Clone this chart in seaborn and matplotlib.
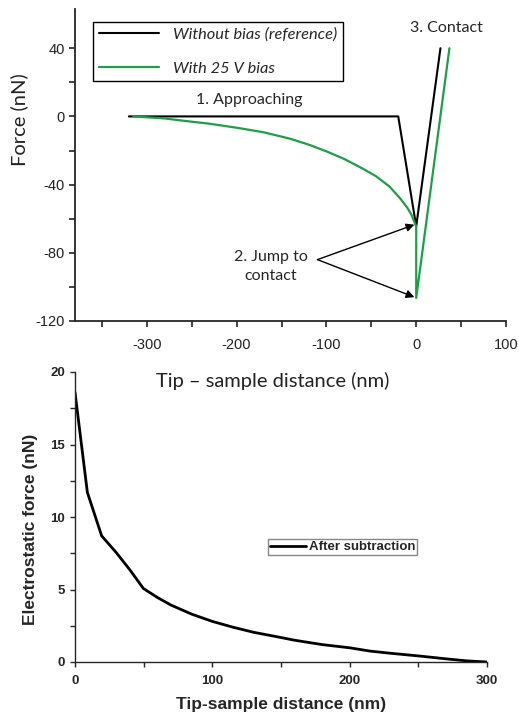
import matplotlib
matplotlib.use("Agg")
import matplotlib.pyplot as plt
import numpy as np
import seaborn as sns
import pandas as pd

# top panel: force curves
ref_dist = [-320, -20, 0, 27]
ref_force = [0, 0, -64.5, 40]
bias_dist = [-315, -280, -255, -230, -198, -170, -141, -120, -100, -80, -60, -45, -30, -18, -10, -5, -2, 0, 0, 37]
bias_force = [0, -1.2, -2.8, -4.3, -6.8, -9.3, -13, -16.5, -20.5, -25, -30.5, -35, -41, -48, -53.5, -58, -62, -64.5, -106.5, 40]

# bottom panel: electrostatic force after subtraction
es_dist = [0, 9, 19.4, 30, 40, 49.8, 60, 70, 85, 100, 115, 130, 145, 160, 180, 200, 215, 230, 250, 270, 285, 300]
es_force = [18.6, 11.7, 8.7, 7.55, 6.35, 5.07, 4.45, 3.92, 3.3, 2.8, 2.4, 2.05, 1.78, 1.5, 1.2, 0.98, 0.75, 0.6, 0.42, 0.22, 0.08, 0]

GREEN = "#1f9e48"
LABEL_FONT = ["Lato", "DejaVu Sans"]

sns.set_style("ticks")
plt.rcParams["font.family"] = ["Liberation Sans", "DejaVu Sans"]
plt.rcParams["axes.unicode_minus"] = False

fig = plt.figure(figsize=(5.19, 7.15), dpi=100)

# ---------------- bottom panel (drawn first, transparent so top xlabel shows) ----------------
ax2 = fig.add_axes([75/519, 1-662/715, 412/519, 290/715])
ax2.set_facecolor("none")
es_df = pd.DataFrame({"d": es_dist, "f": es_force})
sns.lineplot(data=es_df, x="d", y="f", ax=ax2, color="black", lw=2.0,
             sort=False, estimator=None, label="After subtraction")
ax2.set_xlim(0, 300)
ax2.set_ylim(0, 20)
ax2.set_xticks([0, 100, 200, 300])
ax2.set_xticks([50, 150, 250], minor=True)
ax2.set_yticks([0, 5, 10, 15, 20])
ax2.set_yticks([2.5, 7.5, 12.5, 17.5], minor=True)
ax2.tick_params(which="both", direction="out", length=3.5, width=1.0, labelsize=9.5)
ax2.tick_params(axis="x", pad=6)
for lab in ax2.get_xticklabels() + ax2.get_yticklabels():
    lab.set_fontweight("bold")
for s in ["top", "right"]:
    ax2.spines[s].set_visible(False)
for s in ["left", "bottom"]:
    ax2.spines[s].set_linewidth(1.0)

ax2.set_ylabel("Electrostatic force (nN)", fontsize=12.5, fontweight="bold")
ax2.yaxis.set_label_coords(-0.09, 0.459)
ax2.set_xlabel("Tip-sample distance (nm)", fontsize=12.5, fontweight="bold")
ax2.xaxis.set_label_coords(0.5, -0.12)

leg2 = ax2.legend(loc="upper left", bbox_to_anchor=(268/519, 1-539/715), bbox_transform=fig.transFigure,
                  borderaxespad=0, fancybox=False, edgecolor="#888888", framealpha=1,
                  handlelength=2.7, handletextpad=0.25, borderpad=0.15,
                  prop={"weight": "bold", "size": 9.5})
leg2.get_frame().set_linewidth(1.0)

# ---------------- top panel ----------------
ax1 = fig.add_axes([75/519, 1-321/715, 431/519, 312/715])
ax1.set_facecolor("none")
ref_df = pd.DataFrame({"d": ref_dist, "f": ref_force})
bias_df = pd.DataFrame({"d": bias_dist, "f": bias_force})
sns.lineplot(data=ref_df, x="d", y="f", ax=ax1, color="black", lw=1.5,
             sort=False, estimator=None, label="Without bias (reference)")
sns.lineplot(data=bias_df, x="d", y="f", ax=ax1, color=GREEN, lw=1.6,
             sort=False, estimator=None, label="With 25 V bias")
ax1.set_xlim(-380, 100)
ax1.set_ylim(-120, 63)
ax1.set_xticks([-300, -200, -100, 0, 100])
ax1.set_xticks([-350, -250, -150, -50, 50], minor=True)
ax1.set_yticks([-120, -80, -40, 0, 40])
ax1.set_yticks([-100, -60, -20, 20], minor=True)
ax1.tick_params(which="both", direction="out", length=4, width=1.2, labelsize=10.5, colors="#222222")
ax1.tick_params(axis="x", pad=8)
for s in ["top", "right"]:
    ax1.spines[s].set_visible(False)
for s in ["left", "bottom"]:
    ax1.spines[s].set_linewidth(1.3)

ax1.set_ylabel("Force (nN)", fontsize=14.5, family=LABEL_FONT, color="#222222")
ax1.yaxis.set_label_coords(-0.108, 0.647)
ax1.set_xlabel("Tip \u2013 sample distance (nm)", fontsize=14.5, family=LABEL_FONT, color="#222222")
ax1.xaxis.set_label_coords(0.459, -0.163)

leg = ax1.legend(loc="upper left", bbox_to_anchor=(93/519, 1-22/715), bbox_transform=fig.transFigure,
                 borderaxespad=0, fancybox=False, edgecolor="black", framealpha=1,
                 handlelength=3.7, handletextpad=0.85, labelspacing=1.15, borderpad=0.35,
                 prop={"family": LABEL_FONT, "style": "italic", "size": 11.8})
leg.get_frame().set_linewidth(1.0)

ax1.text(-186, 9.5, "1. Approaching", ha="center", va="center", fontsize=11.5, family=LABEL_FONT)
ax1.text(34, 52, "3. Contact", ha="center", va="center", fontsize=11.5, family=LABEL_FONT)
ax1.text(-162, -88, "2. Jump to\ncontact", ha="center", va="center", fontsize=11.5,
         family=LABEL_FONT, linespacing=1.4)
for target in [(-2, -63.5), (-2, -106)]:
    ax1.annotate("", xy=target, xytext=(-110, -84),
                 arrowprops=dict(arrowstyle="-|>", color="black", lw=1.0,
                                 mutation_scale=12, shrinkA=0, shrinkB=0))

fig.savefig("out.png", dpi=100)
